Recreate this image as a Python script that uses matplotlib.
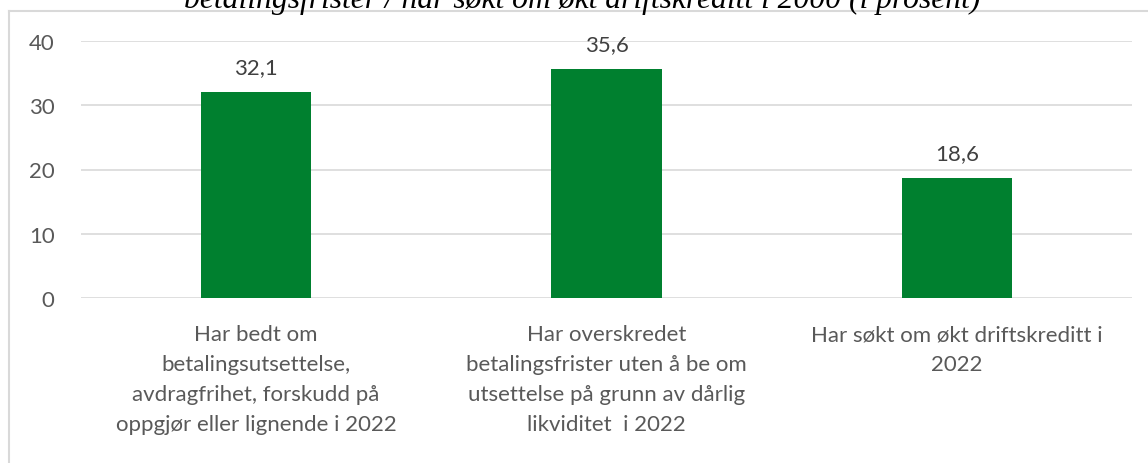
import matplotlib
matplotlib.use("Agg")
import matplotlib.pyplot as plt
from matplotlib.lines import Line2D
from matplotlib.font_manager import FontProperties

categories = [
    "Har bedt om\nbetalingsutsettelse,\navdragfrihet, forskudd på\noppgjør eller lignende i 2022",
    "Har overskredet\nbetalingsfrister uten å be om\nutsettelse på grunn av dårlig\nlikviditet  i 2022",
    "Har søkt om økt driftskreditt i\n2022",
]
values = [32.1, 35.6, 18.6]
value_labels = ["32,1", "35,6", "18,6"]
yticks = [0, 10, 20, 30, 40]
title = "betalingsfrister / har søkt om økt driftskreditt i 2000 (i prosent)"

plt.rcParams["font.family"] = ["Lato", "DejaVu Sans"]

fig = plt.figure(figsize=(11.48, 4.64), dpi=100)
ax = fig.add_axes([81 / 1148, 1 - 299 / 464, (1132 - 81) / 1148, 257 / 464])

x = range(len(values))
ax.bar(x, values, width=0.314, color="#00802F", zorder=3)
for i, v in enumerate(values):
    ax.annotate(value_labels[i], (i, v), xytext=(0, 13.7), textcoords="offset points",
                ha="center", va="baseline", fontsize=16, color="#404040")

ax.set_xlim(-0.5, len(values) - 0.5)
ax.set_ylim(0, 40)
ax.set_yticks(yticks)
ax.set_yticklabels([str(t) for t in yticks], fontsize=16, color="#595959")
ax.set_xticks(list(x))
ax.set_xticklabels(categories, fontsize=16, color="#595959", linespacing=1.62)
ax.tick_params(length=0)
ax.tick_params(axis="y", pad=19)
ax.tick_params(axis="x", pad=19)
ax.yaxis.grid(True, color="#D9D9D9", linewidth=1.2, zorder=0)
for s in ax.spines.values():
    s.set_visible(False)

# chart frame
fig.add_artist(Line2D([9 / 1148, 9 / 1148], [0, 1 - 12 / 464],
                      transform=fig.transFigure, color="#D9D9D9", linewidth=1.5))
fig.add_artist(Line2D([9 / 1148, 1], [1 - 12 / 464, 1 - 12 / 464],
                      transform=fig.transFigure, color="#D9D9D9", linewidth=1.5))

title_font = FontProperties(family="Liberation Serif", style="italic", size=22.8)
fig.text(582 / 1148, 1 - 8 / 464, title, ha="center", va="baseline",
         fontproperties=title_font, color="black")

fig.savefig("out.png", dpi=100)
